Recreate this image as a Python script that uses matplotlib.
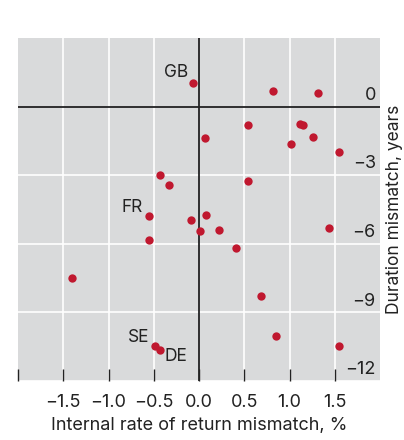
import matplotlib
matplotlib.use("Agg")
import matplotlib.pyplot as plt
import matplotlib.transforms as mtransforms

plt.rcParams["font.family"] = ["Inter", "DejaVu Sans"]

# internal rate of return mismatch (%) and duration mismatch (years)
irr_mismatch = [-0.07, 0.815, 1.31, 0.544, 1.12, 1.15, 1.26, 0.069, 1.015, 1.546,
                -0.428, -0.326, 0.544, -0.556, -0.088, 0.08, 0.011, 0.219, 1.436,
                -0.548, 0.409, -1.408, 0.69, 0.855, -0.49, -0.428, 1.546]
duration_mismatch = [1.02, 0.70, 0.60, -0.82, -0.76, -0.82, -1.32, -1.38, -1.64, -1.98,
                     -3.01, -3.43, -3.26, -4.79, -4.98, -4.72, -5.44, -5.40, -5.32,
                     -5.85, -6.17, -7.50, -8.29, -10.02, -10.46, -10.63, -10.49]

# labelled countries and the point they belong to
country_codes = ["GB", "FR", "SE", "DE"]
country_index = [0, 13, 24, 25]

x_ticks = [-2.0, -1.5, -1.0, -0.5, 0.0, 0.5, 1.0, 1.5]
x_tick_labels = ["", "\u22121.5", "\u22121.0", "\u22120.5", "0.0", "0.5", "1.0", "1.5"]
y_ticks = [0, -3, -6, -9, -12]
y_tick_labels = ["0", "\u22123", "\u22126", "\u22129", "\u221212"]

dot_color = "#c0182f"
text_color = "#222222"

# label placement (offset in points, alignment)
label_style = {
    "GB": ((-3, 1.5), "right", "bottom"),
    "FR": ((-4, 0), "right", "bottom"),
    "SE": ((-4, 0), "right", "bottom"),
    "DE": ((3, 1), "left", "top"),
}

fig = plt.figure(figsize=(4.04, 4.40), dpi=100)
ax = fig.add_axes([18 / 404, 1 - 381 / 440, 362 / 404, 343 / 440])
ax.set_facecolor("#d9dadb")
ax.set_xlim(-2, 2)
ax.set_ylim(-12, 3)

for x in x_ticks[1:]:
    if x != 0:
        ax.axvline(x, color="white", lw=1.2, zorder=1)
for y in y_ticks[1:]:
    ax.axhline(y, color="white", lw=1.2, zorder=1)
ax.axvline(0, color="#222222", lw=1.3, zorder=2)
ax.axhline(0, color="#222222", lw=1.3, zorder=2)

ax.scatter(irr_mismatch, duration_mismatch, s=36, color=dot_color, zorder=3, linewidths=0)

for code, i in zip(country_codes, country_index):
    off, ha, va = label_style[code]
    ax.annotate(code, (irr_mismatch[i], duration_mismatch[i]), xytext=off,
                textcoords="offset points", ha=ha, va=va, fontsize=12.5, color=text_color)

for s in ax.spines.values():
    s.set_visible(False)

ax.set_xticks(x_ticks)
ax.set_xticklabels(x_tick_labels)
ax.tick_params(axis="x", direction="in", length=8.5, width=1, color="#222222",
               labelsize=13, labelcolor=text_color, pad=9)
ax.set_yticks([])

offset = mtransforms.ScaledTranslation(-3 / 72, 2 / 72, fig.dpi_scale_trans)
trans = mtransforms.blended_transform_factory(ax.transAxes, ax.transData) + offset
for y, lab in zip(y_ticks, y_tick_labels):
    ax.text(1.0, y, lab, transform=trans, ha="right", va="bottom",
            fontsize=13, color=text_color, zorder=4)

ax.set_xlabel("Internal rate of return mismatch, %", fontsize=13, color=text_color, labelpad=5)
ax.yaxis.set_label_position("right")
ax.set_ylabel("Duration mismatch, years", fontsize=12.5, color=text_color, labelpad=4)

fig.savefig("out.png", dpi=100)
